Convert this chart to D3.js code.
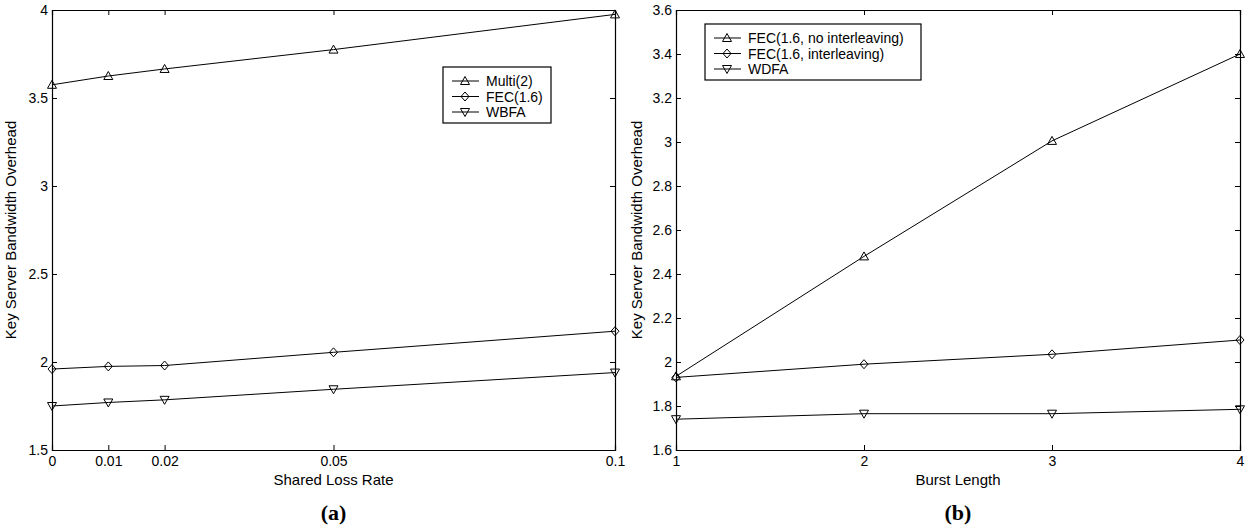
<!DOCTYPE html>
<html>
<head>
<meta charset="utf-8">
<script src="https://cdn.jsdelivr.net/npm/d3@7"></script>
<style>
  body { margin: 0; background: #fff; }
  svg { display: block; font-family: "Liberation Sans", Arial, sans-serif; }
</style>
</head>
<body>
<svg id="chart" width="1248" height="531"></svg>
<script>
// panel (a)
var lossRates = [0, 0.01, 0.02, 0.05, 0.1];
var multi2 = [3.575, 3.625, 3.665, 3.775, 3.975];
var fecA = [1.96, 1.975, 1.98, 2.055, 2.175];
var wbfa = [1.75, 1.77, 1.785, 1.845, 1.94];
var ticksA_y = [1.5, 2, 2.5, 3, 3.5, 4];

// panel (b)
var burstLengths = [1, 2, 3, 4];
var fecNoInter = [1.935, 2.48, 3.005, 3.40];
var fecInter = [1.93, 1.99, 2.035, 2.10];
var wdfa = [1.74, 1.765, 1.765, 1.785];
var ticksB_y = [1.6, 1.8, 2, 2.2, 2.4, 2.6, 2.8, 3, 3.2, 3.4, 3.6];

var svg = d3.select("#chart");
var fmt = function(d){ return String(+d.toFixed(2)); };

function marker(g, type, x, y) {
  var p;
  if (type == "up") p = [[x, y-4.5], [x+4.5, y+3.5], [x-4.5, y+3.5]];
  else if (type == "down") p = [[x, y+4.5], [x+4.5, y-3.5], [x-4.5, y-3.5]];
  else p = [[x, y-4.5], [x+4, y], [x, y+4.5], [x-4, y]];
  g.append("path")
    .attr("d", "M" + p.join("L") + "Z")
    .attr("fill", "none")
    .attr("stroke", "#000")
    .attr("stroke-width", 1);
}

function drawPanel(cfg) {
  var x = d3.scaleLinear().domain(cfg.xDomain).range([cfg.left, cfg.right]);
  var y = d3.scaleLinear().domain(cfg.yDomain).range([450, 10]);
  var g = svg.append("g");

  // box with inward ticks on all four sides
  g.append("g").attr("transform", "translate(0,450)")
    .call(d3.axisBottom(x).tickValues(cfg.xTicks).tickSize(-5).tickPadding(6).tickFormat(fmt));
  g.append("g").attr("transform", "translate(0,10)")
    .call(d3.axisTop(x).tickValues(cfg.xTicks).tickSize(-5).tickFormat(""));
  g.append("g").attr("transform", "translate(" + cfg.left + ",0)")
    .call(d3.axisLeft(y).tickValues(cfg.yTicks).tickSize(-5).tickPadding(4).tickFormat(fmt));
  g.append("g").attr("transform", "translate(" + cfg.right + ",0)")
    .call(d3.axisRight(y).tickValues(cfg.yTicks).tickSize(-5).tickFormat(""));
  g.selectAll(".domain").attr("stroke", "#000").attr("stroke-width", 1.2);
  g.selectAll(".tick line").attr("stroke", "#000");
  g.selectAll(".tick text").attr("font-size", 14).attr("fill", "#000")
    .attr("font-family", "Liberation Sans, Arial, sans-serif");

  g.append("text")
    .attr("x", (cfg.left + cfg.right) / 2).attr("y", 485)
    .attr("text-anchor", "middle").attr("font-size", 15)
    .text(cfg.xLabel);
  g.append("text")
    .attr("transform", "translate(" + cfg.yLabelX + ",230) rotate(-90)")
    .attr("text-anchor", "middle").attr("font-size", 15)
    .text("Key Server Bandwidth Overhead");
  g.append("text")
    .attr("x", (cfg.left + cfg.right) / 2).attr("y", 520)
    .attr("text-anchor", "middle")
    .attr("font-family", "Liberation Serif, Times New Roman, serif")
    .attr("font-weight", "bold").attr("font-size", 22)
    .text(cfg.title);

  var line = d3.line().x(function(d){ return x(d[0]); }).y(function(d){ return y(d[1]); });
  cfg.series.forEach(function(s) {
    var pts = cfg.xs.map(function(v, i){ return [v, s.values[i]]; });
    g.append("path").attr("d", line(pts))
      .attr("fill", "none").attr("stroke", "#000").attr("stroke-width", 1);
    pts.forEach(function(p){ marker(g, s.shape, x(p[0]), y(p[1])); });
  });

  // legend
  var lg = g.append("g").attr("transform", "translate(" + cfg.legend[0] + "," + cfg.legend[1] + ")");
  lg.append("rect").attr("width", cfg.legendW).attr("height", 56)
    .attr("fill", "#fff").attr("stroke", "#000").attr("stroke-width", 1.2);
  cfg.series.forEach(function(s, i) {
    var ly = 14 + i * 15.5;
    lg.append("line").attr("x1", 9).attr("x2", 36).attr("y1", ly).attr("y2", ly)
      .attr("stroke", "#000");
    marker(lg, s.shape, 22, ly);
    lg.append("text").attr("x", 43).attr("y", ly + 5).attr("font-size", 14).text(s.name);
  });
}

drawPanel({
  left: 52, right: 615,
  xDomain: [0, 0.1], xTicks: lossRates,
  yDomain: [1.5, 4], yTicks: ticksA_y,
  xs: lossRates,
  xLabel: "Shared Loss Rate", yLabelX: 16, title: "(a)",
  legend: [443, 67], legendW: 108,
  series: [
    {name: "Multi(2)", values: multi2, shape: "up"},
    {name: "FEC(1.6)", values: fecA, shape: "diamond"},
    {name: "WBFA", values: wbfa, shape: "down"}
  ]
});

drawPanel({
  left: 676, right: 1240,
  xDomain: [1, 4], xTicks: burstLengths,
  yDomain: [1.6, 3.6], yTicks: ticksB_y,
  xs: burstLengths,
  xLabel: "Burst Length", yLabelX: 642, title: "(b)",
  legend: [705, 24], legendW: 216,
  series: [
    {name: "FEC(1.6, no interleaving)", values: fecNoInter, shape: "up"},
    {name: "FEC(1.6, interleaving)", values: fecInter, shape: "diamond"},
    {name: "WDFA", values: wdfa, shape: "down"}
  ]
});
</script>
</body>
</html>
